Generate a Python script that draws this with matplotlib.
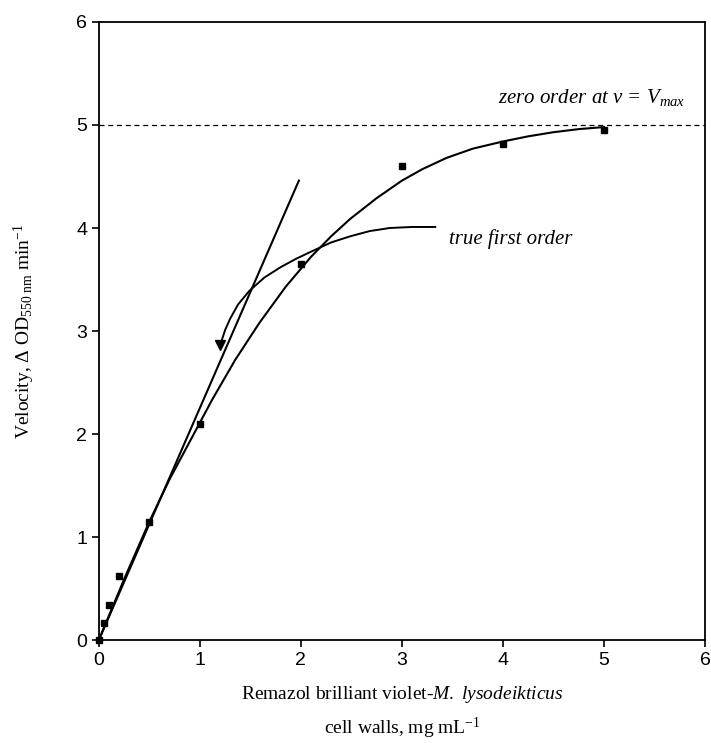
import matplotlib.pyplot as plt

plt.rcParams['font.family'] = ['Liberation Sans', 'DejaVu Sans']
plt.rcParams['mathtext.fontset'] = 'custom'
plt.rcParams['mathtext.rm'] = 'Liberation Serif'
plt.rcParams['mathtext.it'] = 'Liberation Serif:italic'

# measured points
conc = [0, 0.05, 0.1, 0.2, 0.5, 1, 2, 3, 4, 5]
vel = [0, 0.17, 0.34, 0.62, 1.15, 2.1, 3.65, 4.6, 4.82, 4.95]

# fitted curve
fit_x = [0, 0.25, 0.5, 0.7, 1.0, 1.12, 1.35, 1.59, 1.85, 2.1, 2.3, 2.49, 2.75,
         3.0, 3.2, 3.44, 3.7, 4.0, 4.25, 4.5, 4.75, 5.0]
fit_y = [0, 0.59, 1.15, 1.56, 2.11, 2.33, 2.72, 3.08, 3.43, 3.72, 3.92, 4.09, 4.29,
         4.46, 4.57, 4.68, 4.77, 4.84, 4.89, 4.93, 4.96, 4.98]

# initial-rate tangent
tan_x = [0, 1.98]
tan_y = [0, 4.46]

# "true first order" curve
first_x = [3.33, 3.1, 2.88, 2.68, 2.49, 2.3, 2.1, 1.95, 1.8, 1.64, 1.49, 1.38,
           1.3, 1.25, 1.22, 1.2]
first_y = [4.01, 4.01, 4.0, 3.97, 3.92, 3.86, 3.77, 3.7, 3.62, 3.52, 3.39, 3.26,
           3.12, 3.01, 2.92, 2.86]

vmax = 5

fig = plt.figure(figsize=(7.11, 7.43), dpi=100)
ax = fig.add_axes([0.139, 0.1386, 0.8526, 0.8318])

ax.plot(fit_x, fit_y, color='black', lw=1.5)
ax.plot(tan_x, tan_y, color='black', lw=1.5)
ax.plot(first_x, first_y, color='black', lw=1.4)
ax.plot([first_x[-1]], [first_y[-1]], marker='v', color='black', ms=7, ls='none')
ax.axhline(vmax, color='black', lw=0.9, ls=(0, (4, 3)))
ax.plot(conc, vel, 's', color='black', ms=4.5, clip_on=False)

ax.text(3.47, 3.89, 'true first order', family='Liberation Serif', style='italic',
        fontsize=15, va='center', ha='left')
ax.text(5.8, 5.27, r'zero order at $v$ = $V_{max}$', family='Liberation Serif',
        style='italic', fontsize=15, va='center', ha='right')

ax.set_xlim(0, 6)
ax.set_ylim(0, 6)
ax.set_xticks(range(0, 7))
ax.set_yticks(range(0, 7))
ax.tick_params(direction='out', length=5, width=1.2, labelsize=14)
for s in ax.spines.values():
    s.set_linewidth(1.3)

ax.set_xlabel('Remazol brilliant violet-$\\mathit{M.\\ lysodeikticus}$\ncell walls, mg mL$^{-1}$',
              family='Liberation Serif', fontsize=14, labelpad=11, linespacing=1.6)
ax.set_ylabel('Velocity, $\\Delta$ OD$_{\\mathrm{550\\ nm}}$ min$^{-1}$',
              family='Liberation Serif', fontsize=14, labelpad=28)

fig.savefig('out.png', dpi=100)
